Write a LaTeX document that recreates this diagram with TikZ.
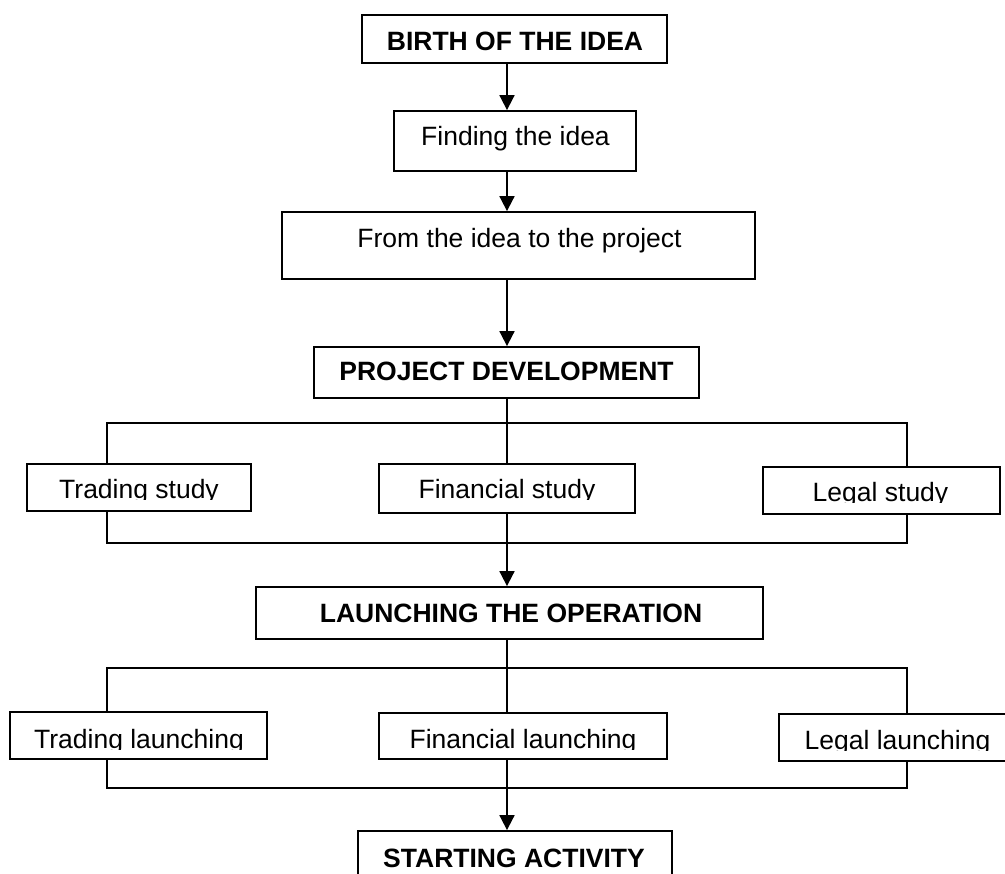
\documentclass[tikz,border=0pt]{standalone}
\usepackage{fontspec}
\setmainfont{Liberation Sans}
\usetikzlibrary{arrows.meta}
\begin{document}
\begin{tikzpicture}[x=1pt,y=-1pt,
  box/.style={draw, line width=1.8pt, fill=white, rectangle, inner sep=0pt},
  bracketbox/.style={draw, line width=1.8pt, rectangle, inner sep=0pt},
  txt/.style={anchor=base, inner sep=0pt, font=\fontsize{26.5}{32}\selectfont},
  btxt/.style={txt, font=\fontsize{26.5}{32}\selectfont\bfseries},
  arr/.style={line width=1.8pt, -{Triangle[width=15pt,length=15pt]}},
  ln/.style={line width=1.8pt}]
\useasboundingbox (0,0) rectangle (1005,874);
\clip (0,0) rectangle (1005,874);
\fill[white] (0,0) rectangle (1005,874);
\coordinate (axis) at (507,0);

% brackets
\node[bracketbox, minimum width=800pt, minimum height=120pt] (br1) at (507,483) {};
\node[bracketbox, minimum width=800pt, minimum height=120pt] (br2) at (507,728) {};

% boxes
\node[box, minimum width=305pt, minimum height=48pt] (b1) at (514.5,39) {};
\node[box, minimum width=242pt, minimum height=60pt] (b2) at (515,141) {};
\node[box, minimum width=473pt, minimum height=67pt] (b3) at (518.5,245.5) {};
\node[box, minimum width=385pt, minimum height=51pt] (b4) at (506.5,372.5) {};
\node[box, minimum width=224pt, minimum height=47pt] (ts) at (139,487.5) {};
\node[box, minimum width=256pt, minimum height=49pt] (fs) at (507,488.5) {};
\node[box, minimum width=237pt, minimum height=47pt] (ls) at (881.5,490.5) {};
\node[box, minimum width=507pt, minimum height=52pt] (b5) at (509.5,613) {};
\node[box, minimum width=257pt, minimum height=47pt] (tl) at (138.5,735.5) {};
\node[box, minimum width=288pt, minimum height=46pt] (fl) at (523,736) {};
\node[box, minimum width=237pt, minimum height=47pt] (ll) at (897.5,737.5) {};
\node[box, minimum width=314pt, minimum height=49pt] (b6) at (515,855.5) {};

% texts
\node[btxt] (t1) at (515,51) {BIRTH OF THE IDEA};
\node[txt] (t2) at (515.5,146) {Finding the idea};
\node[txt] (t3) at (519.5,248) {From the idea to the project};
\node[btxt] (t4) at (506.5,381) {PROJECT DEVELOPMENT};
\begin{scope}
\clip (27,464) rectangle (251,500);
\node[txt] (tts) at (139,499) {Trading study};
\end{scope}
\begin{scope}
\clip (379,464) rectangle (635,500);
\node[txt] (tfs) at (507,499) {Financial study};
\end{scope}
\begin{scope}
\clip (763,467) rectangle (1000,503);
\node[txt] (tls) at (880.5,502) {Legal study};
\end{scope}
\node[btxt] (t5) at (511,623) {LAUNCHING THE OPERATION};
\begin{scope}
\clip (10,712) rectangle (267,749);
\node[txt] (ttl) at (139,748) {Trading launching};
\end{scope}
\begin{scope}
\clip (379,713) rectangle (667,749);
\node[txt] (tfl) at (523,748) {Financial launching};
\end{scope}
\begin{scope}
\clip (779,714) rectangle (1016,750);
\node[txt] (tll) at (897.5,749) {Legal launching};
\end{scope}
\node[btxt] (t6) at (514,867) {STARTING ACTIVITY};

% connectors
\draw[arr] (b1.south -| axis) -- (b2.north -| axis);
\draw[arr] (b2.south -| axis) -- (b3.north -| axis);
\draw[arr] (b3.south -| axis) -- (b4.north -| axis);
\draw[ln] (b4.south -| axis) -- (fs.north -| axis);
\draw[arr] (fs.south -| axis) -- (b5.north -| axis);
\draw[ln] (b5.south -| axis) -- (fl.north -| axis);
\draw[arr] (fl.south -| axis) -- (b6.north -| axis);
\end{tikzpicture}
\end{document}
